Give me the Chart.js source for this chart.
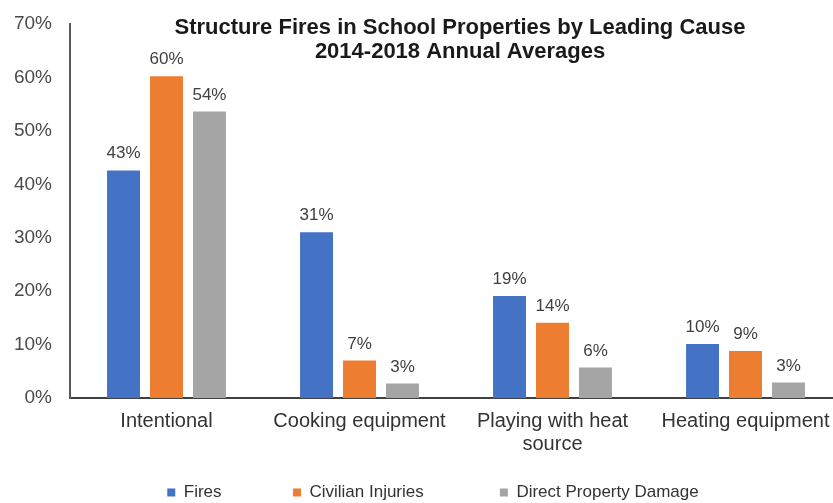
<!DOCTYPE html>
<html>
<head>
<meta charset="utf-8">
<script src="https://cdn.jsdelivr.net/npm/chart.js@4/dist/chart.umd.min.js"></script>
<style>
  html, body { margin: 0; padding: 0; background: #fff; overflow: hidden; }
  #wrap { position: absolute; left: 0; top: 0; width: 866px; height: 511px; }
</style>
</head>
<body>
<div id="wrap"><canvas id="myChart"></canvas></div>
<script>
// chart data
const titleLines = ['Structure Fires in School Properties by Leading Cause', '2014-2018 Annual Averages']
const causes = ['Intentional', 'Cooking equipment', ['Playing with heat', 'source'], 'Heating equipment']
const fires = [42.6, 31, 19.1, 10.1]
const civilianInjuries = [60.2, 7, 14.1, 8.8]
const propertyDamage = [53.6, 2.7, 5.7, 2.9]
const yTicks = [0, 10, 20, 30, 40, 50, 60, 70]

const FONT = 'Arial, "Liberation Sans", sans-serif'

// draws the "43%" style labels over each bar
const valueLabels = {
  id: 'valueLabels',
  afterDatasetsDraw(chart) {
    const ctx = chart.ctx
    ctx.save()
    ctx.font = '17px ' + FONT
    ctx.fillStyle = '#404040'
    ctx.textAlign = 'center'
    ctx.textBaseline = 'alphabetic'
    chart.data.datasets.forEach((ds, i) => {
      chart.getDatasetMeta(i).data.forEach((bar, j) => {
        ctx.fillText(Math.round(ds.data[j]) + '%', bar.x, bar.y - 12)
      })
    })
    ctx.restore()
  },
}

// title sits inside the plot area, like the Excel original
const innerTitle = {
  id: 'innerTitle',
  afterDraw(chart) {
    const ctx = chart.ctx
    const area = chart.chartArea
    const cx = (area.left + area.right) / 2 + 4
    ctx.save()
    ctx.font = 'bold 22px ' + FONT
    ctx.fillStyle = '#1a1a1a'
    ctx.textAlign = 'center'
    ctx.textBaseline = 'middle'
    titleLines.forEach((line, i) => ctx.fillText(line, cx, area.top + 4 + i * 24))
    ctx.restore()
  },
}

// extra trailing spaces widen the gaps between legend entries
const legendGaps = [13, 14, 0]

new Chart(document.getElementById('myChart').getContext('2d'), {
  type: 'bar',
  data: {
    labels: causes,
    datasets: [
      { label: 'Fires', data: fires, backgroundColor: '#4472C4' },
      { label: 'Civilian Injuries', data: civilianInjuries, backgroundColor: '#ED7D31' },
      { label: 'Direct Property Damage', data: propertyDamage, backgroundColor: '#A5A5A5' },
    ],
  },
  options: {
    responsive: true,
    maintainAspectRatio: false,
    animation: false,
    layout: { padding: { top: 24, left: 0, right: 0, bottom: 0 } },
    datasets: { bar: { categoryPercentage: 0.668, barPercentage: 0.767 } },
    scales: {
      x: {
        grid: { display: false, drawTicks: false },
        border: { display: true, color: '#404040', width: 2 },
        ticks: {
          padding: 12,
          color: '#333333',
          font: { family: FONT, size: 20, lineHeight: 1.15 },
          maxRotation: 0,
          autoSkip: false,
        },
        afterFit(scale) { scale.height = 76 },
      },
      y: {
        min: 0,
        max: 70,
        afterBuildTicks(scale) { scale.ticks = yTicks.map(v => ({ value: v })) },
        grid: { display: false, drawTicks: false },
        border: { display: true, color: '#595959', width: 2 },
        ticks: {
          padding: 18,
          color: '#4a4a4a',
          font: { family: FONT, size: 19 },
          callback: v => v + '%',
        },
        afterFit(scale) {
          scale.width = 70
          scale.paddingTop = 0
          scale.paddingBottom = 0
        },
      },
      // empty right-hand strip, so the plot runs off the window edge as in the original
      spacer: {
        position: 'right',
        grid: { display: false, drawTicks: false },
        border: { display: false },
        ticks: { display: false },
        afterFit(scale) {
          scale.width = 24
          scale.paddingTop = 0
          scale.paddingBottom = 0
        },
      },
    },
    plugins: {
      title: { display: false },
      tooltip: { enabled: false },
      legend: {
        position: 'bottom',
        labels: {
          boxWidth: 8,
          boxHeight: 8,
          padding: 10,
          color: '#333333',
          font: { family: FONT, size: 17 },
          generateLabels(chart) {
            return Chart.defaults.plugins.legend.labels.generateLabels(chart).map((item, i) => {
              item.text = item.text + ' '.repeat(legendGaps[i])
              item.lineWidth = 0
              return item
            })
          },
        },
      },
    },
  },
  plugins: [valueLabels, innerTitle],
})
</script>
</body>
</html>
